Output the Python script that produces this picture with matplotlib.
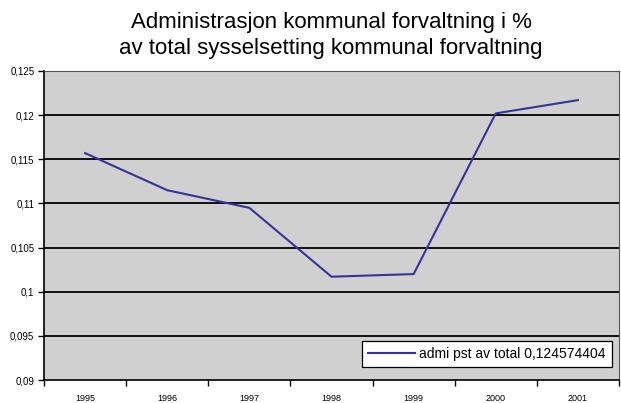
import numpy as np
import matplotlib.pyplot as plt

plt.rcParams['font.family'] = ['Liberation Sans', 'DejaVu Sans']

years = ['1995', '1996', '1997', '1998', '1999', '2000', '2001']
admi_pst = [0.1157, 0.1115, 0.1095, 0.1017, 0.1020, 0.1202, 0.1217]
y_ticks = [0.09, 0.095, 0.1, 0.105, 0.11, 0.115, 0.12, 0.125]
y_labels = ['0,09', '0,095', '0,1', '0,105', '0,11', '0,115', '0,12', '0,125']

fig = plt.figure(figsize=(6.21, 4.03), dpi=100)
fig.patch.set_facecolor('white')
ax = fig.add_axes([44 / 621, 1 - 380 / 403, 575 / 621, 309 / 403])
ax.set_facecolor('#d0d0d0')

x = np.arange(len(years))
ax.plot(x, admi_pst, color='#333399', linewidth=1.5,
        label='admi pst av total 0,124574404')

ax.set_xlim(-0.5, len(years) - 0.5)
ax.set_ylim(0.09, 0.125)

# grid lines at major y ticks
ax.set_yticks(y_ticks)
ax.set_yticklabels(y_labels)
for yv in y_ticks[1:-1]:
    ax.axhline(yv, color='black', linewidth=1.3, zorder=1)

# category labels centered, ticks on boundaries
ax.set_xticks(x)
ax.set_xticklabels(years)
ax.set_xticks(np.arange(len(years) + 1) - 0.5, minor=True)
ax.tick_params(axis='x', which='major', length=0, pad=10, labelsize=6.5)
ax.tick_params(axis='x', which='minor', length=4, width=1, direction='out')
ax.tick_params(axis='y', length=4, width=1, direction='out', labelsize=7, pad=3)

for side in ['top', 'right']:
    ax.spines[side].set_color('#555555')
    ax.spines[side].set_linewidth(0.8)
for side in ['left', 'bottom']:
    ax.spines[side].set_color('black')
    ax.spines[side].set_linewidth(1.2)

leg = ax.legend(loc='lower right', bbox_to_anchor=(0.988, 0.042), fontsize=10,
                frameon=True, fancybox=False, borderpad=0.45, handlelength=3.4,
                handletextpad=0.3, borderaxespad=0)
leg.get_frame().set_edgecolor('black')
leg.get_frame().set_linewidth(0.9)
leg.get_frame().set_facecolor('white')
leg.get_frame().set_alpha(1)

fig.text(0.533, 0.943, 'Administrasjon kommunal forvaltning i %',
         ha='center', va='center', fontsize=16)
fig.text(0.533, 0.880, 'av total sysselsetting kommunal forvaltning',
         ha='center', va='center', fontsize=16)

plt.savefig('out.png', dpi=100, facecolor='white')
